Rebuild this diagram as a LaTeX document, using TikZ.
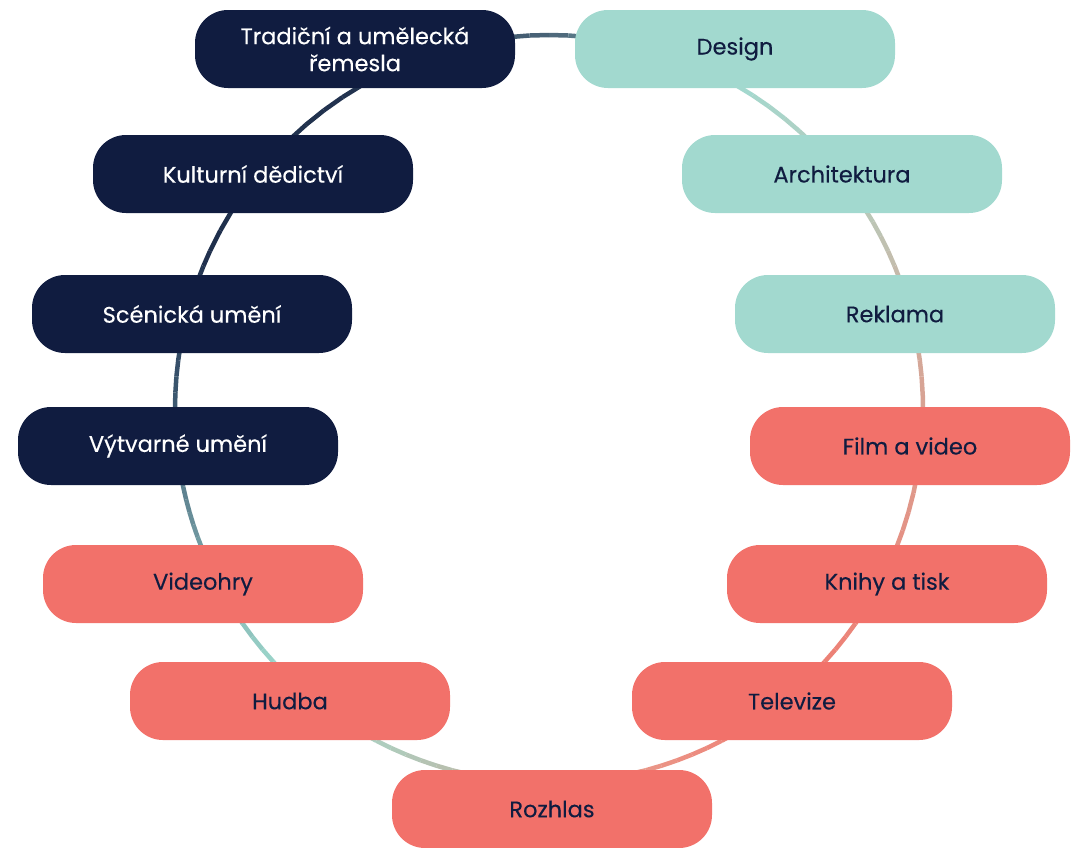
\documentclass[tikz,border=0pt]{standalone}
\usepackage{fontspec}
\setmainfont{Poppins}[FakeBold=0.3]
\usepackage{tikz}

\definecolor{navy}{HTML}{101C40}
\definecolor{mint}{HTML}{A2D9CF}
\definecolor{coral}{HTML}{F2716A}

\tikzset{
  pill/.style={rounded corners=33pt, minimum width=320pt, minimum height=78pt,
    inner sep=0pt, align=center, font=\fontsize{22.5}{27}\selectfont},
  darkpill/.style={pill, fill=navy, text=white},
  mintpill/.style={pill, fill=mint, text=navy},
  coralpill/.style={pill, fill=coral, text=navy}
}

\begin{document}
\begin{tikzpicture}[x=1pt,y=-1pt]
    \useasboundingbox (0,0) rectangle (1076,847);

    % draw ring in coloured pieces
    \foreach \a/\b/\ca/\cb in {
        90/60/4A6478/A3D9CF, 60/30/A3D9CF/BCC6B6, 30/5/BCC6B6/D6A596,
        5/-25/D6A596/E68F82, -25/-50/E68F82/F07A70, -50/-75/F07A70/EA9688,
        -75/-100/EA9688/BDB8A6, -100/-125/BDB8A6/A6D8CB, -125/-135/A6D8CB/A0DCCF,
        -135/-160/A0DCCF/6F97A0, -160/-180/6F97A0/3E5A72, -180/-205/3E5A72/1F2F4C,
        -205/-240/1F2F4C/22334F, -240/-270/22334F/4A6478}
    {
      \definecolor{ringa}{HTML}{\ca}
      \definecolor{ringb}{HTML}{\cb}
      \foreach \i in {0,...,9} {
        \pgfmathsetmacro{\pct}{10*\i+5}
        \colorlet{ringc}{ringb!\pct!ringa}
        \draw[ringc, line width=4.5pt]
          ({549+374*cos(\a+(\b-\a)*\i/10)},{409-374*sin(\a+(\b-\a)*\i/10)})
          -- ({549+374*cos(\a+(\b-\a)*(\i+1)/10)},{409-374*sin(\a+(\b-\a)*(\i+1)/10)});
      }
    }

    % draw nodes
    \node[darkpill] (trad) at (355,49) {Tradiční a umělecká\\řemesla};
    \node[darkpill] (kult) at (253,174) {Kulturní dědictví};
    \node[darkpill] (scen) at (192,314) {Scénická umění};
    \node[darkpill] (vytv) at (178,446) {Výtvarné umění};
    \node[coralpill] (videohry) at (203,584) {Videohry};
    \node[coralpill] (hudba) at (290,701) {Hudba};
    \node[coralpill] (rozhlas) at (552,809) {Rozhlas};
    \node[coralpill] (tv) at (792,701) {Televize};
    \node[coralpill] (knihy) at (887,584) {Knihy a tisk};
    \node[coralpill] (film) at (910,446) {Film a video};
    \node[mintpill] (rekl) at (895,314) {Reklama};
    \node[mintpill] (arch) at (842,174) {Architektura};
    \node[mintpill] (design) at (735,49) {Design};

  \end{tikzpicture}
\end{document}
